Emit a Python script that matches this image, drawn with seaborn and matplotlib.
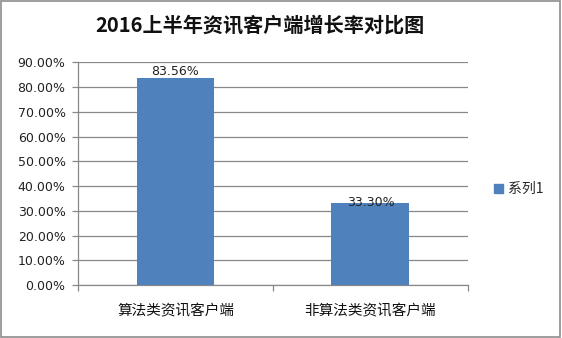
import matplotlib
matplotlib.use("Agg")
import matplotlib.pyplot as plt
import matplotlib.patches as mpatches
from matplotlib.ticker import FuncFormatter, MultipleLocator
import pandas as pd
import seaborn as sns

title = "2016上半年资讯客户端增长率对比图"
categories = ["算法类资讯客户端", "非算法类资讯客户端"]
growth = [83.56, 33.30]
series_name = "系列1"

sns.set_theme(style="white")
plt.rcParams["font.family"] = ["Noto Sans CJK SC", "DejaVu Sans"]

df = pd.DataFrame({"category": categories, "growth": growth})

fig = plt.figure(figsize=(5.62, 3.38), dpi=100)
fig.patch.set_facecolor("white")
ax = fig.add_axes([0.1388, 0.1568, 0.6939, 0.6583])

bar_color = "#4F81BD"
sns.barplot(data=df, x="category", y="growth", color=bar_color, width=0.4,
            saturation=1, linewidth=0, edgecolor="none", ax=ax, zorder=3)

ax.set_ylim(0, 90)
ax.set_xlim(-0.5, 1.5)
ax.yaxis.set_major_locator(MultipleLocator(10))
ax.yaxis.set_major_formatter(FuncFormatter(lambda v, p: f"{v:.2f}%"))
ax.grid(axis="y", color="#888888", linewidth=0.9, zorder=0)
ax.set_xlabel("")
ax.set_ylabel("")

for side in ["top", "right"]:
    ax.spines[side].set_visible(False)
for side in ["left", "bottom"]:
    ax.spines[side].set_color("#888888")
    ax.spines[side].set_linewidth(0.9)

ax.tick_params(axis="y", which="both", left=True, length=4, width=0.9,
               color="#888888", pad=5, labelsize=9, labelcolor="#222222")
for lbl in ax.get_yticklabels():
    lbl.set_family("DejaVu Sans")
ax.set_xticks([0, 1])
ax.set_xticklabels(categories, fontsize=10.5, color="#111111")
ax.tick_params(axis="x", which="major", bottom=False, pad=8)
# boundary tick marks between categories
ax.set_xticks([-0.5, 0.5, 1.5], minor=True)
ax.tick_params(axis="x", which="minor", bottom=True, length=4, width=0.9,
               color="#888888")

# value labels
bars = ax.patches
ax.annotate(f"{growth[0]:.2f}%", (bars[0].get_x() + bars[0].get_width() / 2, growth[0]),
            xytext=(0, 0.5), textcoords="offset points", ha="center", va="bottom",
            fontsize=9, family="DejaVu Sans", color="#222222", zorder=5)
ax.annotate(f"{growth[1]:.2f}%", (bars[1].get_x() + bars[1].get_width() / 2, growth[1]),
            xytext=(0, 0), textcoords="offset points", ha="center", va="center",
            fontsize=9, family="DejaVu Sans", color="#222222", zorder=5)

fig.text(0.463, 0.925, title, ha="center", va="center", fontsize=14.5,
         fontweight="bold", color="#111111")

handle = mpatches.Patch(color=bar_color, label=series_name)
fig.legend(handles=[handle], loc="center left", bbox_to_anchor=(0.87, 0.44),
           frameon=False, fontsize=10, handlelength=0.6, handleheight=0.6,
           handletextpad=0.4, borderaxespad=0)

# thin frame round the whole chart
fig.add_artist(mpatches.Rectangle((0.002, 0.003), 0.995, 0.993, transform=fig.transFigure,
                                  fill=False, edgecolor="#8c8c8c", linewidth=1.2))

fig.savefig("out.png", dpi=100)
